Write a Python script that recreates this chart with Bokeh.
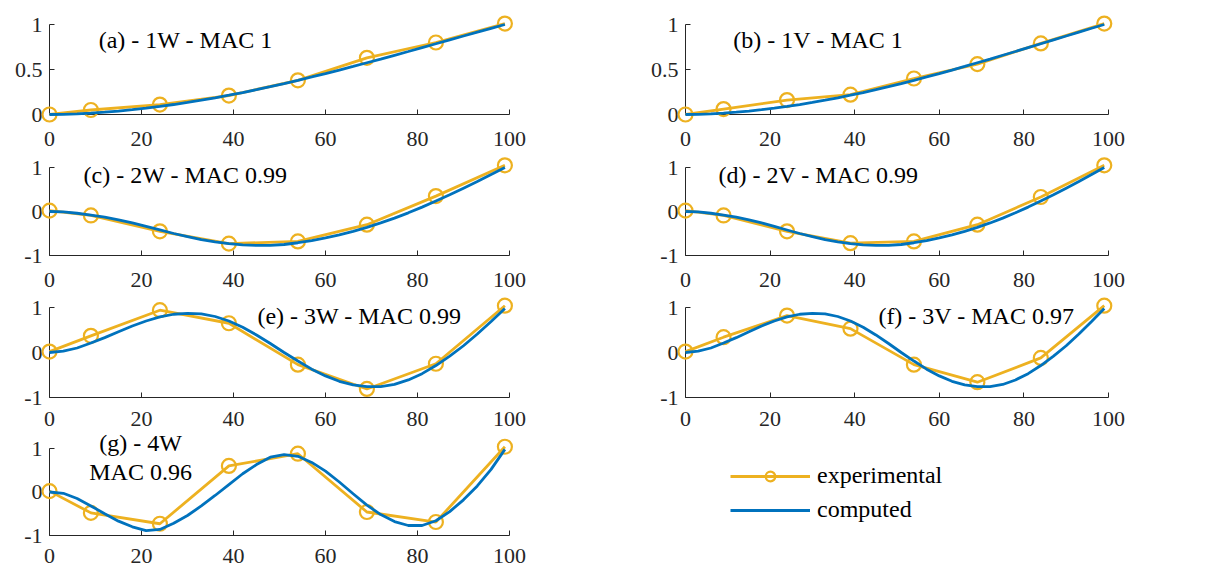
from bokeh.plotting import figure
from bokeh.layouts import column, row
from bokeh.models import Range1d, FixedTicker, Legend, LegendItem
from bokeh.core.properties import value
from bokeh.embed import file_html
from bokeh.resources import INLINE

ORANGE = "#EDB120"
BLUE = "#0072BD"
FONT = "Liberation Serif"
AX = "#262626"

# ---------------- data ----------------
x_exp = [0, 9, 24, 39, 54, 69, 84, 99]
exp_1W = [0.0, 0.05, 0.11, 0.21, 0.38, 0.63, 0.80, 1.01]
exp_1V = [0.0, 0.06, 0.16, 0.22, 0.40, 0.56, 0.79, 1.01]
exp_2W = [0.02, -0.09, -0.45, -0.73, -0.68, -0.30, 0.35, 1.05]
exp_2V = [0.02, -0.09, -0.45, -0.72, -0.68, -0.30, 0.33, 1.05]
exp_3W = [0.02, 0.37, 0.94, 0.65, -0.27, -0.81, -0.25, 1.04]
exp_3V = [0.02, 0.34, 0.82, 0.53, -0.27, -0.66, -0.12, 1.04]
exp_4W = [0.02, -0.48, -0.73, 0.60, 0.88, -0.46, -0.69, 1.04]

x_comp = [0, 3, 6, 9, 12, 15, 18, 21, 24, 27, 30, 33, 36, 39, 42, 45, 48,
          51, 54, 57, 60, 63, 66, 69, 72, 75, 78, 81, 84, 87, 90, 93, 96, 99]
comp_1 = [0.000, 0.002, 0.007, 0.015, 0.026, 0.038, 0.053, 0.070, 0.090, 0.111,
          0.134, 0.159, 0.186, 0.214, 0.244, 0.276, 0.309, 0.344, 0.380, 0.417,
          0.455, 0.494, 0.534, 0.575, 0.616, 0.658, 0.700, 0.743, 0.786, 0.829,
          0.872, 0.915, 0.958, 1.000]
comp_2 = [0.00, -0.01, -0.04, -0.08, -0.13, -0.19, -0.26, -0.34, -0.42, -0.50,
          -0.57, -0.64, -0.69, -0.73, -0.76, -0.77, -0.77, -0.75, -0.71, -0.66,
          -0.60, -0.53, -0.45, -0.36, -0.26, -0.15, -0.03, 0.10, 0.24, 0.38,
          0.53, 0.68, 0.84, 1.00]
comp_3 = [0.00, 0.03, 0.10, 0.21, 0.33, 0.46, 0.59, 0.70, 0.79, 0.85,
          0.87, 0.86, 0.80, 0.70, 0.56, 0.39, 0.20, 0.00, -0.19, -0.37,
          -0.52, -0.64, -0.72, -0.76, -0.76, -0.71, -0.61, -0.47, -0.29, -0.08,
          0.15, 0.41, 0.69, 0.98]
comp_4 = [0.00, -0.03, -0.15, -0.32, -0.50, -0.67, -0.80, -0.89, -0.86, -0.72,
          -0.54, -0.32, -0.08, 0.17, 0.42, 0.63, 0.80, 0.86, 0.82, 0.68,
          0.48, 0.23, -0.04, -0.30, -0.52, -0.68, -0.77, -0.77, -0.66, -0.45,
          -0.18, 0.14, 0.52, 0.98]

x_ticks = [0, 20, 40, 60, 80, 100]
y_ticks_1 = [0, 0.5, 1]
y_labels_1 = ["0", "0.5", "1"]
y_ticks_2 = [-1, 0, 1]
y_labels_2 = ["-1", "0", "1"]

# ---------------- layout geometry ----------------
LEFT_COL = dict(left=49, frame_w=460)
RIGHT_COL = dict(left=156, frame_w=423)
RIGHT_BORDER = 20
ROWS = [
    dict(top=24, frame_h=90, bottom=38, standoff=17),
    dict(top=15, frame_h=88, bottom=38, standoff=17),
    dict(top=14, frame_h=90, bottom=34, standoff=14),
    dict(top=17, frame_h=87, bottom=33, standoff=13),
]


def style_axis(ax):
    ax.axis_line_color = AX
    ax.axis_line_width = 1
    ax.major_tick_line_color = AX
    ax.major_tick_in = 5
    ax.major_tick_out = 0
    ax.minor_tick_line_color = None
    ax.major_label_text_font = FONT
    ax.major_label_text_font_size = "22px"
    ax.major_label_text_color = AX


def base_figure(col, rw, ylim):
    p = figure(width=col["left"] + col["frame_w"] + RIGHT_BORDER,
               height=rw["top"] + rw["frame_h"] + rw["bottom"],
               x_range=Range1d(0, 100), y_range=Range1d(*ylim),
               output_backend="svg", toolbar_location=None,
               min_border_left=col["left"], min_border_right=RIGHT_BORDER,
               min_border_top=rw["top"], min_border_bottom=rw["bottom"])
    p.grid.visible = False
    p.outline_line_color = None
    p.background_fill_color = "white"
    p.border_fill_color = "white"
    return p


def panel(col, rw, ye, yc, yticks, ylabels, titles):
    ylim = (min(yticks), max(yticks))
    p = base_figure(col, rw, ylim)
    style_axis(p.xaxis[0])
    style_axis(p.yaxis[0])
    p.xaxis.ticker = FixedTicker(ticks=x_ticks)
    p.xaxis.major_label_standoff = rw["standoff"]
    p.yaxis.ticker = FixedTicker(ticks=yticks)
    p.yaxis.major_label_overrides = {t: s for t, s in zip(yticks, ylabels)}
    p.yaxis.major_label_standoff = 7

    p.line(x_exp, ye, line_color=ORANGE, line_width=2.8, level="overlay")
    p.scatter(x_exp, ye, marker="circle", size=14, fill_color=None,
              line_color=ORANGE, line_width=2.2, level="overlay")
    p.line(x_comp, yc, line_color=BLUE, line_width=2.8, level="overlay")

    for (tx, ty, txt, align) in titles:
        p.text(x=[tx], y=[ty], text=[txt], text_font=value(FONT),
               text_font_size="24px", text_color="black",
               text_align=align, text_baseline="middle", level="overlay")
    return p


pa = panel(LEFT_COL, ROWS[0], exp_1W, comp_1, y_ticks_1, y_labels_1,
           [(10.7, 0.83, "(a) - 1W - MAC 1", "left")])
pb = panel(RIGHT_COL, ROWS[0], exp_1V, comp_1, y_ticks_1, y_labels_1,
           [(11.3, 0.83, "(b) - 1V - MAC 1", "left")])
pc = panel(LEFT_COL, ROWS[1], exp_2W, comp_2, y_ticks_2, y_labels_2,
           [(7.4, 0.82, "(c) - 2W - MAC 0.99", "left")])
pd = panel(RIGHT_COL, ROWS[1], exp_2V, comp_2, y_ticks_2, y_labels_2,
           [(7.8, 0.82, "(d) - 2V - MAC 0.99", "left")])
pe = panel(LEFT_COL, ROWS[2], exp_3W, comp_3, y_ticks_2, y_labels_2,
           [(45.2, 0.81, "(e) - 3W - MAC 0.99", "left")])
pf = panel(RIGHT_COL, ROWS[2], exp_3V, comp_3, y_ticks_2, y_labels_2,
           [(45.6, 0.81, "(f) - 3V - MAC 0.97", "left")])
pg = panel(LEFT_COL, ROWS[3], exp_4W, comp_4, y_ticks_2, y_labels_2,
           [(19.8, 1.12, "(g) - 4W", "center"), (19.8, 0.46, "MAC 0.96", "center")])

# legend panel (bottom right)
pl = base_figure(RIGHT_COL, ROWS[3], (-1, 1))
pl.xaxis.visible = False
pl.yaxis.visible = False
l_exp = pl.line(x_exp, exp_4W, line_color=ORANGE, line_width=2.8, visible=False)
s_exp = pl.scatter(x_exp, exp_4W, marker="circle", size=14, fill_color=None,
                   line_color=ORANGE, line_width=2.2, visible=False)
l_comp = pl.line(x_comp, comp_4, line_color=BLUE, line_width=2.8, visible=False)
legend = Legend(items=[LegendItem(label="experimental", renderers=[l_exp, s_exp]),
                       LegendItem(label="computed", renderers=[l_comp])],
                location=(45, 12), padding=0, margin=0, spacing=7,
                glyph_width=80, glyph_height=24, label_height=24,
                label_standoff=7, label_text_font=FONT,
                label_text_font_size="24px", label_text_color="black",
                border_line_color=None, background_fill_alpha=0,
                click_policy="none")
pl.add_layout(legend)

layout = column(row(pa, pb), row(pc, pd), row(pe, pf), row(pg, pl))

open("out.html", "w").write(file_html(layout, INLINE))
